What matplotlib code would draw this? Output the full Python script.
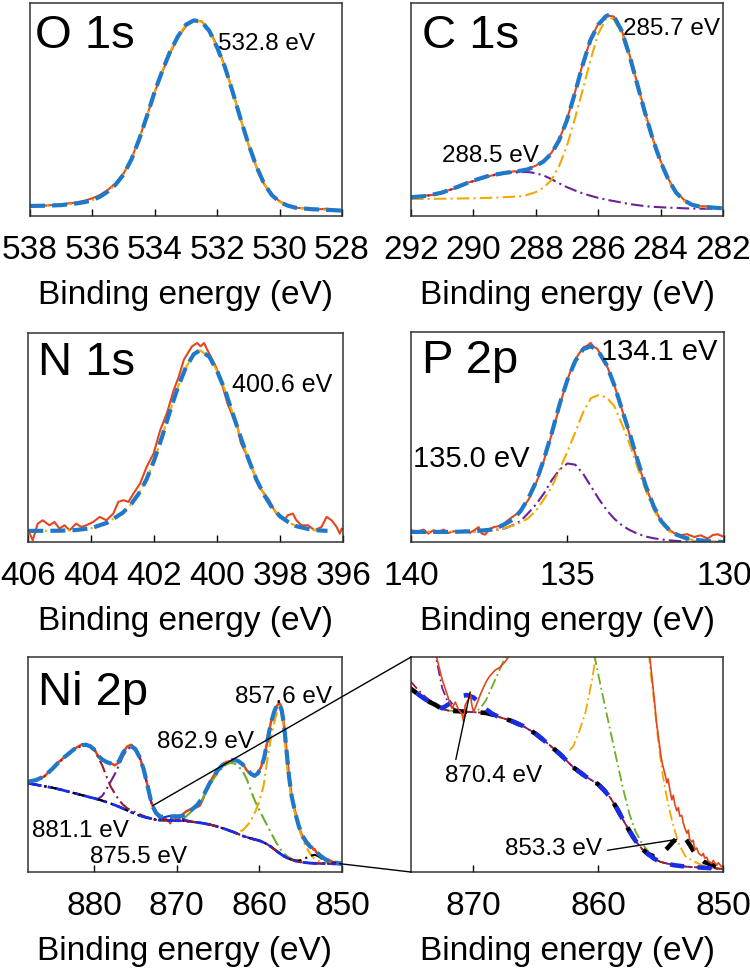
import matplotlib.pyplot as plt
import numpy as np
from matplotlib.patches import ConnectionPatch

plt.rcParams["font.family"] = ["Liberation Sans", "DejaVu Sans"]

RAW = "#e4461c"
FIT = "#1f78c8"
C_ORANGE = "#f2a900"
C_PURPLE = "#6a1f9c"
C_MAROON = "#9b1b2d"
C_GREEN = "#6cae27"
C_BG = "#1a2de6"

FIT_LS = (0, (3.6, 1.7))
COMP_LS = (0, (6, 2, 1, 2))
BG_LS = (0, (5, 2.2, 1, 2.2))

# ---------------- O 1s ----------------
o1s_e = [538.0, 537.5, 537.0, 536.5, 536.25, 536.0, 535.75, 535.5, 535.25, 535.0,
         534.75, 534.5, 534.25, 534.0, 533.75, 533.5, 533.25, 533.0, 532.75, 532.5,
         532.25, 532.0, 531.75, 531.5, 531.25, 531.0, 530.75, 530.5, 530.25, 530.0,
         529.75, 529.5, 529.0, 528.5, 528.0]
o1s_fit = [4.7, 4.8, 5.1, 5.9, 6.5, 7.4, 9.1, 11.5, 14.8, 19.5,
           26.5, 36.0, 47.0, 58.5, 68.5, 77.5, 84.5, 89.8, 91.8, 91.2,
           86.8, 79.0, 69.8, 58.0, 45.5, 33.8, 23.5, 15.2, 9.8, 6.6,
           4.9, 3.9, 3.2, 2.9, 2.5]
o1s_raw_e = [538.0, 537.5, 537.0, 536.5, 536.25, 536.0, 535.75, 535.5, 535.25, 535.0,
             534.75, 534.5, 534.25, 534.0, 533.75, 533.5, 533.25, 533.0, 532.75, 532.5,
             532.25, 532.0, 531.75, 531.5, 531.25, 531.0, 530.75, 530.5, 530.25, 530.0,
             529.75, 529.5, 529.25, 529.0, 528.75, 528.5, 528.25, 528.0]
o1s_raw = [4.6, 4.9, 5.4, 6.4, 7.2, 8.3, 9.9, 12.3, 15.4, 20.0,
           26.8, 36.2, 47.1, 58.2, 68.0, 76.8, 84.0, 89.2, 91.6, 91.4,
           87.4, 79.6, 70.2, 58.3, 45.6, 33.6, 23.2, 15.0, 9.9, 6.9,
           5.0, 3.9, 3.6, 3.3, 3.1, 3.4, 2.8, 2.7]

# ---------------- C 1s ----------------
c1s_e = [292.0, 291.5, 291.0, 290.5, 290.0, 289.5, 289.0, 288.5, 288.25, 288.0,
         287.75, 287.5, 287.25, 287.0, 286.75, 286.5, 286.25, 286.0, 285.75, 285.65,
         285.5, 285.25, 285.0, 284.75, 284.5, 284.25, 284.0, 283.75, 283.5, 283.25,
         283.0, 282.75, 282.5, 282.0]
c1s_fit = [8.8, 9.4, 11.0, 13.7, 16.6, 18.9, 20.2, 21.2, 21.9, 23.4,
           25.6, 29.3, 35.6, 45.0, 57.5, 70.8, 82.5, 89.8, 93.8, 94.4,
           93.8, 87.0, 75.5, 62.0, 48.5, 36.0, 25.5, 17.0, 10.9, 7.3,
           5.3, 4.4, 4.1, 3.6]
c1s_comp_285 = [8.0, 8.0, 8.1, 8.2, 8.3, 8.5, 8.8, 9.2, 10.0, 11.2,
                13.3, 16.8, 23.5, 33.0, 45.5, 59.0, 73.0, 85.5, 92.5, 93.2,
                92.3, 85.6, 74.3, 60.8, 47.5, 35.2, 24.9, 16.5, 10.5, 7.0,
                5.0, 4.2, 3.9, 3.5]
c1s_comp_288 = [8.8, 9.4, 11.0, 13.6, 16.4, 18.7, 20.0, 20.6, 20.6, 20.1,
                19.0, 17.3, 15.3, 13.5, 12.0, 10.6, 9.5, 8.5, 7.7, 7.4,
                7.0, 6.3, 5.6, 5.1, 4.6, 4.3, 4.1, 3.9, 3.8, 3.6,
                3.5, 3.4, 3.4, 3.3]
c1s_raw_e = [292.0, 291.75, 291.5, 291.25, 291.0, 290.75, 290.5, 290.25, 290.0, 289.75,
             289.5, 289.25, 289.0, 288.75, 288.5, 288.25, 288.0, 287.75, 287.5, 287.25,
             287.0, 286.75, 286.5, 286.25, 286.0, 285.75, 285.65, 285.5, 285.25, 285.0,
             284.75, 284.5, 284.25, 284.0, 283.75, 283.5, 283.25, 283.0, 282.75, 282.5,
             282.25, 282.0]
c1s_raw = [8.6, 9.0, 9.6, 10.0, 11.3, 12.2, 13.5, 15.4, 16.3, 17.9,
           18.6, 19.7, 20.0, 20.9, 21.0, 22.2, 23.6, 26.0, 29.6, 35.8,
           45.4, 57.8, 71.2, 82.6, 90.2, 93.6, 94.0, 93.6, 87.3, 75.9,
           62.4, 48.7, 36.3, 25.8, 17.3, 11.2, 7.6, 5.4, 4.6, 4.5,
           4.0, 3.7]

# ---------------- N 1s ----------------
n1s_e = [406.0, 405.0, 404.5, 404.0, 403.5, 403.0, 402.75, 402.5, 402.25, 402.0,
         401.75, 401.5, 401.25, 401.0, 400.75, 400.55, 400.25, 400.0, 399.75, 399.5,
         399.25, 399.0, 398.75, 398.5, 398.25, 398.0, 397.75, 397.5, 397.0, 396.5]
n1s_fit = [5.3, 5.4, 5.7, 6.6, 9.2, 14.0, 17.8, 23.0, 29.8, 39.2,
           50.4, 62.6, 74.0, 83.4, 89.8, 91.7, 88.6, 81.6, 72.4, 61.0,
           49.8, 39.2, 29.6, 22.2, 16.2, 12.2, 9.6, 7.6, 5.8, 5.3]
n1s_raw_e = [405.99, 405.86, 405.70, 405.54, 405.33, 405.17, 405.01, 404.85, 404.69, 404.48,
             404.32, 404.16, 403.94, 403.73, 403.52, 403.30, 403.14, 402.98, 402.82, 402.66,
             402.45, 402.24, 402.02, 401.81, 401.60, 401.38, 401.22, 401.06, 400.90, 400.80,
             400.64, 400.53, 400.42, 400.32, 400.21, 400.05, 399.89, 399.68, 399.46, 399.36,
             399.25, 399.09, 398.99, 398.83, 398.67, 398.51, 398.35, 398.19, 398.03, 397.87,
             397.76, 397.60, 397.49, 397.33, 397.12, 396.91, 396.69, 396.53, 396.37, 396.21,
             396.11, 396.05, 395.95]
n1s_raw = [5.3, 0.8, 8.8, 10.4, 8.0, 9.6, 6.4, 8.0, 5.6, 8.8,
           7.2, 8.0, 9.6, 12.0, 10.4, 13.6, 19.2, 20.0, 19.2, 23.2,
           28.0, 36.0, 42.4, 53.6, 61.6, 72.8, 79.2, 87.2, 91.2, 93.6,
           95.2, 93.6, 95.2, 92.0, 88.8, 84.0, 77.6, 66.4, 58.4, 55.2,
           47.2, 42.4, 39.2, 32.8, 26.4, 23.2, 20.0, 15.2, 12.0, 10.4,
           12.8, 13.6, 10.4, 8.0, 8.0, 5.6, 7.2, 12.0, 10.4, 7.2,
           4.0, 6.4, 5.6]

# ---------------- P 2p ----------------
p2p_e = [140.0, 139.5, 139.0, 138.5, 138.0, 137.5, 137.25, 137.0, 136.75, 136.5,
         136.25, 136.0, 135.75, 135.5, 135.25, 135.0, 134.75, 134.5, 134.25, 134.0,
         133.75, 133.5, 133.25, 133.0, 132.75, 132.5, 132.25, 132.0, 131.75, 131.5,
         131.25, 131.0, 130.5, 130.0]
p2p_fit = [4.8, 4.8, 4.8, 4.9, 5.1, 5.8, 6.7, 8.5, 10.6, 14.7,
           20.8, 28.8, 39.6, 52.0, 65.7, 77.3, 86.2, 91.8, 93.2, 90.5,
           84.3, 74.5, 62.7, 51.0, 38.5, 26.8, 17.2, 9.8, 5.8, 3.4,
           2.0, 1.2, 0.4, 0.0]
p2p_comp_135 = [4.8, 4.8, 4.8, 4.8, 4.9, 5.4, 5.9, 6.5, 8.0, 10.0,
                13.8, 18.0, 23.2, 29.5, 34.5, 37.4, 36.8, 32.5, 26.5, 20.5,
                15.2, 11.0, 7.8, 5.6, 3.9, 2.6, 1.8, 1.2, 0.8, 0.5,
                0.3, 0.2, 0.1, 0.0]
p2p_comp_134 = [4.8, 4.8, 4.8, 4.8, 4.9, 5.2, 5.8, 6.7, 7.8, 9.2,
                11.4, 15.0, 20.4, 26.3, 34.7, 43.1, 52.3, 61.8, 68.5, 70.0,
                68.8, 64.6, 55.8, 46.0, 35.0, 24.5, 15.6, 8.7, 5.1, 2.9,
                1.7, 1.0, 0.4, 0.0]
p2p_raw_e = [139.98, 139.82, 139.60, 139.45, 139.28, 139.12, 138.96, 138.80, 138.64, 138.43,
             138.27, 138.11, 137.95, 137.84, 137.74, 137.63, 137.52, 137.36, 137.20, 137.04,
             136.83, 136.61, 136.40, 136.24, 136.08, 135.86, 135.65, 135.44, 135.22, 135.01,
             134.80, 134.64, 134.48, 134.37, 134.26, 134.16, 134.05, 133.89, 133.73, 133.52,
             133.30, 133.09, 132.88, 132.66, 132.45, 132.24, 132.02, 131.81, 131.60, 131.38,
             131.17, 130.95, 130.74, 130.52, 130.36, 130.20, 130.04]
p2p_raw = [5.6, 4.8, 5.9, 4.0, 5.6, 4.8, 5.9, 4.3, 5.1, 4.8,
           5.6, 4.4, 5.9, 7.1, 4.0, 3.5, 5.6, 7.1, 7.5, 8.7,
           11.2, 13.5, 16.9, 20.3, 25.2, 33.5, 44.0, 54.5, 66.5, 77.0,
           85.5, 89.5, 92.8, 93.5, 94.8, 92.9, 92.0, 88.0, 83.5, 75.5,
           65.0, 55.0, 44.0, 33.5, 24.5, 16.5, 10.2, 6.5, 4.3, 3.3,
           3.7, 2.4, 3.2, 1.6, 3.3, 3.7, 2.7]

# ---------------- Ni 2p ----------------
ni_raw_e = [888.0, 887.5, 887.0, 886.5, 886.0, 885.5, 885.0, 884.5, 884.0, 883.5,
            883.0, 882.5, 882.0, 881.5, 881.0, 880.5, 880.0, 879.5, 879.0, 878.5,
            878.0, 877.5, 877.0, 876.5, 876.0, 875.5, 875.0, 874.5, 874.0, 873.5,
            873.2, 872.92, 872.52, 872.25, 871.99, 871.72, 871.45, 871.19, 870.92, 870.79,
            870.66, 870.39, 870.26, 870.12, 869.99, 869.72, 869.46, 869.19, 868.92, 868.66,
            868.26, 867.86, 867.46, 867.19, 866.8, 866.5, 866.0, 865.5, 865.0, 864.5,
            864.0, 863.5, 863.0, 862.5, 862.0, 861.5, 861.0, 860.6, 860.2, 859.8,
            859.4, 859.0, 858.6, 858.2, 857.9, 857.6, 857.45, 857.3, 857.15, 857.0,
            856.85, 856.7, 856.55, 856.4, 856.25, 856.1, 855.95, 855.8, 855.65, 855.5,
            855.33, 855.2, 855.06, 854.95, 854.85, 854.66, 854.5, 854.4, 854.26, 854.1,
            853.98, 853.86, 853.7, 853.58, 853.46, 853.3, 853.18, 853.07, 852.9, 852.78,
            852.67, 852.5, 852.38, 852.27, 852.1, 851.98, 851.87, 851.7, 851.58, 851.47,
            851.3, 851.18, 851.07, 850.9, 850.78, 850.67, 850.5, 850.38, 850.27, 850.13,
            850.0]
ni_raw = [41.8, 42.3, 42.6, 43.6, 44.5, 46.6, 48.0, 50.5, 52.0, 53.9,
          55.0, 57.0, 58.2, 59.3, 59.5, 58.6, 57.4, 53.8, 52.6, 51.0,
          50.7, 49.6, 51.0, 55.4, 58.4, 59.2, 57.4, 53.9, 47.4, 39.8,
          34.0, 30.8, 28.2, 26.9, 25.6, 24.4, 25.2, 24.2, 23.7, 22.7,
          24.8, 25.6, 26.3, 24.8, 23.9, 25.0, 26.1, 27.1, 28.0, 28.6,
          29.3, 29.7, 30.4, 31.0, 34.2, 37.5, 41.6, 45.0, 47.2, 49.8,
          51.2, 51.6, 52.6, 51.2, 50.3, 47.2, 45.6, 44.4, 46.0, 48.8,
          53.6, 61.5, 69.8, 74.4, 77.2, 78.6, 77.8, 75.5, 72.0, 67.5,
          61.5, 55.5, 49.5, 44.0, 39.5, 35.5, 32.5, 30.0, 27.8, 25.5,
          22.6, 21.0, 19.3, 18.0, 17.2, 16.0, 14.8, 15.3, 13.9, 12.6,
          13.2, 12.0, 11.2, 11.6, 10.5, 10.6, 9.6, 9.0, 8.3, 8.7,
          7.5, 7.2, 7.4, 6.2, 6.4, 5.8, 5.6, 5.4, 5.7, 5.1,
          5.2, 4.7, 4.6, 4.4, 4.8, 4.5, 4.2, 4.5, 4.3, 4.0,
          4.1]

ni_fit_e = [888.0, 887.0, 886.0, 885.0, 884.0, 883.0, 882.5, 882.0, 881.5, 881.0,
            880.5, 880.0, 879.5, 879.0, 878.5, 878.0, 877.5, 877.0, 876.5, 876.0,
            875.6, 875.0, 874.5, 874.0, 873.5, 873.0, 872.5, 872.0, 871.5, 871.0,
            870.5, 870.0, 869.5, 869.0, 868.5, 868.0, 867.5, 867.0, 866.5, 866.0,
            865.5, 865.0, 864.5, 864.0, 863.5, 863.0, 862.5, 862.0, 861.5, 861.0,
            860.6, 860.2, 859.8, 859.4, 859.0, 858.6, 858.2, 857.9, 857.6, 857.3,
            857.0, 856.7, 856.4, 856.1, 855.8, 855.5, 855.2, 854.8, 854.4, 854.0,
            853.5, 853.0, 852.5, 852.0, 851.5, 851.0, 850.5, 850.0]
ni_fit = [42.0, 42.8, 44.6, 48.2, 52.2, 55.3, 56.9, 58.2, 59.0, 59.2,
          58.6, 57.0, 54.0, 52.3, 51.2, 50.5, 49.9, 51.5, 55.5, 58.0,
          58.7, 57.2, 53.5, 47.8, 39.6, 31.2, 27.4, 25.8, 25.6, 25.8,
          25.9, 25.9, 26.0, 26.7, 28.0, 29.6, 31.3, 34.0, 37.6, 41.4,
          44.7, 47.5, 49.6, 51.0, 51.9, 52.2, 51.5, 50.0, 47.8, 45.6,
          44.8, 45.8, 48.4, 53.4, 61.6, 69.4, 74.6, 77.4, 78.4, 75.4,
          68.0, 56.0, 44.2, 35.5, 30.0, 25.2, 21.0, 17.0, 14.4, 12.4,
          10.6, 8.9, 7.2, 5.9, 5.0, 4.5, 4.2, 4.0]

ni_bg_e = [888.0, 887.0, 886.0, 885.0, 884.0, 883.0, 882.0, 881.0, 880.0, 879.0,
           878.0, 877.0, 876.0, 875.0, 874.5, 874.0, 873.5, 873.0, 872.5, 872.0,
           871.0, 870.0, 869.0, 868.5, 868.0, 867.0, 866.0, 865.0, 864.0, 863.0,
           862.0, 861.0, 860.0, 859.5, 859.0, 858.5, 858.0, 857.5, 857.0, 856.5,
           856.0, 855.5, 855.0, 854.0, 853.0, 852.0, 851.0, 850.0]
ni_bg = [41.3, 40.6, 39.9, 39.2, 38.3, 37.3, 36.3, 35.3, 34.3, 33.2,
         31.9, 30.4, 28.7, 26.9, 26.3, 25.7, 25.2, 24.8, 24.3, 24.1,
         24.0, 23.9, 23.8, 23.6, 23.3, 22.8, 22.1, 21.1, 19.8, 18.4,
         16.8, 15.6, 14.6, 13.8, 12.8, 11.5, 10.0, 8.6, 7.3, 6.3,
         5.6, 5.0, 4.6, 4.2, 4.0, 3.9, 3.8, 3.7]

ni_881_e = [888.0, 887.0, 886.0, 885.0, 884.0, 883.0, 882.5, 882.0, 881.5, 881.0,
            880.5, 880.0, 879.5, 879.0, 878.5, 878.0, 877.5, 877.0, 876.5, 876.0,
            875.5, 875.0, 874.5, 874.0, 873.5, 873.0]
ni_881 = [42.0, 42.8, 44.6, 48.0, 51.9, 55.0, 56.6, 57.9, 58.6, 58.8,
          58.3, 56.8, 53.3, 49.5, 44.5, 39.8, 36.6, 33.6, 31.3, 29.7,
          28.6, 27.8, 26.9, 26.1, 25.4, 24.9]

ni_875_e = [879.5, 879.0, 878.5, 878.0, 877.5, 877.0, 876.5, 876.0, 875.6, 875.0,
            874.5, 874.0, 873.5, 873.0, 872.5, 872.0, 871.5, 871.0]
ni_875 = [34.0, 35.5, 38.5, 42.0, 45.5, 49.5, 54.0, 57.0, 58.0, 56.6,
          53.0, 47.5, 39.4, 31.0, 27.0, 25.0, 24.3, 24.0]

ni_870_e = [873.0, 872.5, 872.0, 871.5, 871.0, 870.5, 870.0, 869.5, 869.0, 868.5, 868.0]
ni_870 = [24.8, 24.4, 24.9, 25.5, 26.0, 26.1, 25.8, 25.1, 24.3, 23.7, 23.3]

ni_863_e = [870.0, 869.5, 869.0, 868.5, 868.0, 867.5, 867.0, 866.5, 866.0, 865.5,
            865.0, 864.5, 864.0, 863.5, 863.0, 862.5, 862.0, 861.5, 861.0, 860.5,
            860.0, 859.5, 859.0, 858.5, 858.0, 857.5, 857.0, 856.5, 856.0, 855.5]
ni_863 = [23.9, 24.3, 25.4, 27.2, 29.0, 30.8, 33.2, 36.8, 40.3, 43.6,
          46.3, 48.5, 50.0, 50.8, 50.5, 49.0, 46.8, 43.0, 37.5, 32.8,
          28.8, 25.0, 21.3, 17.6, 14.0, 10.8, 8.5, 7.0, 6.0, 5.0]

ni_857_e = [862.3, 862.0, 861.5, 861.0, 860.5, 860.0, 859.5, 859.0, 858.5, 858.0,
            857.8, 857.6, 857.4, 857.2, 857.0, 856.8, 856.6, 856.4, 856.2, 856.0,
            855.8, 855.6, 855.4, 855.2, 855.0, 854.8, 854.6, 854.4, 854.2, 854.0,
            853.75, 853.5, 853.25, 853.0, 852.5, 852.0, 851.5, 851.0, 850.5, 850.0]
ni_857 = [19.0, 19.5, 21.5, 24.0, 28.0, 33.0, 40.0, 53.0, 64.5, 72.5,
          75.0, 76.0, 74.8, 71.5, 66.0, 55.0, 47.0, 41.5, 36.5, 32.5,
          29.0, 26.3, 23.4, 20.3, 17.8, 15.5, 13.7, 12.1, 10.7, 9.4,
          8.0, 6.8, 6.0, 5.3, 4.8, 4.4, 4.1, 3.9, 3.8, 3.7]

ni_853_e = [856.0, 855.5, 855.0, 854.5, 854.0, 853.6, 853.3, 853.0, 852.7, 852.4,
            852.0, 851.5, 851.0, 850.5, 850.0]
ni_853 = [5.6, 5.3, 5.5, 6.3, 7.2, 7.8, 8.0, 7.6, 6.9, 6.1,
          5.3, 4.6, 4.3, 4.0, 3.8]


def on_bg(e, y):
    """a fitted component sits on the background outside its own range"""
    be, by = np.asarray(ni_bg_e), np.asarray(ni_bg)
    hi, lo = be > max(e), be < min(e)
    return np.concatenate([be[hi], e, be[lo]]), np.concatenate([by[hi], y, by[lo]])


def frame(ax, xlim, ticks, ylim=(0, 100)):
    ax.set_xlim(*xlim)
    ax.set_ylim(*ylim)
    ax.set_xticks(ticks)
    ax.set_yticks([])
    ax.tick_params(axis="x", direction="in", length=5, width=1,
                   labelsize=24, pad=14)
    ax.set_xlabel("Binding energy (eV)", fontsize=24, labelpad=10)
    for s in ax.spines.values():
        s.set_color("#333333")
        s.set_linewidth(1.1)


def title(ax, text, x, y):
    ax.text(x, y, text, transform=ax.transAxes, fontsize=34, va="baseline")


fig = plt.figure(figsize=(7.5, 9.75), dpi=100)
ax_o = fig.add_axes([0.040, 0.7785, 0.416, 0.2185])
ax_c = fig.add_axes([0.548, 0.7785, 0.416, 0.2185])
ax_n = fig.add_axes([0.0377, 0.4441, 0.420, 0.2144])
ax_p = fig.add_axes([0.548, 0.4441, 0.4173, 0.2154])
ax_ni = fig.add_axes([0.0373, 0.1056, 0.4187, 0.2205])
ax_z = fig.add_axes([0.548, 0.1056, 0.416, 0.2205])

# O 1s
ax_o.plot(o1s_raw_e, o1s_raw, color=RAW, lw=1.5)
ax_o.plot(o1s_e, o1s_fit, color=C_ORANGE, lw=1.5, ls=COMP_LS)
ax_o.plot(o1s_e, o1s_fit, color=FIT, lw=3, ls=FIT_LS)
frame(ax_o, (538, 528), [538, 536, 534, 532, 530, 528])
title(ax_o, "O 1s", 0.016, 0.789)
ax_o.text(531.97, 77.7, "532.8 eV", fontsize=17.5)

# C 1s
ax_c.plot(c1s_raw_e, c1s_raw, color=RAW, lw=1.5)
ax_c.plot(c1s_e, c1s_comp_288, color=C_PURPLE, lw=1.5, ls=COMP_LS)
ax_c.plot(c1s_e, c1s_comp_285, color=C_ORANGE, lw=1.5, ls=COMP_LS)
ax_c.plot(c1s_e, c1s_fit, color=FIT, lw=3, ls=FIT_LS)
frame(ax_c, (292, 282), [292, 290, 288, 286, 284, 282])
title(ax_c, "C 1s", 0.035, 0.789)
ax_c.text(285.2, 85.0, "285.7 eV", fontsize=17.5)
ax_c.text(291.0, 25.5, "288.5 eV", fontsize=17.5)

# N 1s
ax_n.plot(n1s_raw_e, n1s_raw, color=RAW, lw=1.5)
ax_n.plot(n1s_e, n1s_fit, color=C_ORANGE, lw=1.5, ls=COMP_LS)
ax_n.plot(n1s_e, n1s_fit, color=FIT, lw=3, ls=FIT_LS)
frame(ax_n, (406, 396), [406, 404, 402, 400, 398, 396])
title(ax_n, "N 1s", 0.031, 0.799)
ax_n.text(399.53, 71.9, "400.6 eV", fontsize=18)

# P 2p
ax_p.plot(p2p_raw_e, p2p_raw, color=RAW, lw=1.5)
ax_p.plot(p2p_e, p2p_comp_135, color=C_PURPLE, lw=1.5, ls=COMP_LS)
ax_p.plot(p2p_e, p2p_comp_134, color=C_ORANGE, lw=1.5, ls=COMP_LS)
ax_p.plot(p2p_e, p2p_fit, color=FIT, lw=3, ls=FIT_LS)
frame(ax_p, (140, 130), [140, 135, 130])
title(ax_p, "P 2p", 0.035, 0.805)
ax_p.text(133.94, 86.7, "134.1 eV", fontsize=21)
ax_p.text(139.94, 35.9, "135.0 eV", fontsize=21)

# Ni 2p, full range
comps = [(ni_863_e, ni_863, C_GREEN), (ni_875_e, ni_875, C_PURPLE),
         (ni_870_e, ni_870, C_BG), (ni_853_e, ni_853, "black"),
         (ni_881_e, ni_881, C_MAROON)]
ax_ni.plot(ni_raw_e, ni_raw, color=RAW, lw=1.8)
ax_ni.plot(ni_857_e, ni_857, color=C_ORANGE, lw=1.5, ls=COMP_LS)
for e, y, col in comps:
    ax_ni.plot(*on_bg(e, y), color=col, lw=1.5, ls=COMP_LS)
ax_ni.plot(ni_bg_e, ni_bg, color=C_BG, lw=2, ls=BG_LS)
ax_ni.plot(ni_fit_e, ni_fit, color=FIT, lw=3, ls=FIT_LS)
frame(ax_ni, (888, 850), [880, 870, 860, 850])
title(ax_ni, "Ni 2p", 0.032, 0.777)
ax_ni.text(862.9, 78.5, "857.6 eV", fontsize=17.5)
ax_ni.text(872.4, 57.5, "862.9 eV", fontsize=17.5)
ax_ni.text(887.5, 16.4, "881.1 eV", fontsize=17.5)
ax_ni.text(880.5, 4.0, "875.5 eV", fontsize=17.5)

# Ni 2p, enlarged background region
ax_z.plot(ni_857_e, ni_857, color=C_ORANGE, lw=1.3, ls=COMP_LS)
for e, y, col in comps[:2] + comps[4:]:
    ax_z.plot(*on_bg(e, y), color=col, lw=1.3, ls=COMP_LS)
ax_z.plot(*on_bg(ni_853_e, ni_853), color="black", lw=3.3, ls=(0, (3, 3)))
ax_z.plot(*on_bg(ni_870_e, ni_870), color=C_BG, lw=3.3, ls=(3, (3, 3)))
ax_z.plot(ni_raw_e, ni_raw, color=RAW, lw=1.2)
frame(ax_z, (875, 850), [870, 860, 850], ylim=(3.3, 31.0))
ax_z.annotate("870.4 eV", xy=(870.26, 26.5), xytext=(872.28, 14.9), fontsize=17.5,
              arrowprops=dict(arrowstyle="-", color="black", lw=1,
                              relpos=(0.1, 1.0), shrinkA=2, shrinkB=0))
ax_z.annotate("853.3 eV", xy=(853.73, 7.5), xytext=(867.47, 5.5), fontsize=17.5,
              arrowprops=dict(arrowstyle="-", color="black", lw=1,
                              relpos=(1.0, 0.4), shrinkA=2, shrinkB=0))

for xy_a, xy_b in [((872.9, 30.9), (0, 1)), ((850.3, 3.9), (0, 0))]:
    fig.add_artist(ConnectionPatch(xyA=xy_a, coordsA=ax_ni.transData,
                                   xyB=xy_b, coordsB=ax_z.transAxes,
                                   color="black", lw=1))

fig.savefig("out.png", dpi=100)
